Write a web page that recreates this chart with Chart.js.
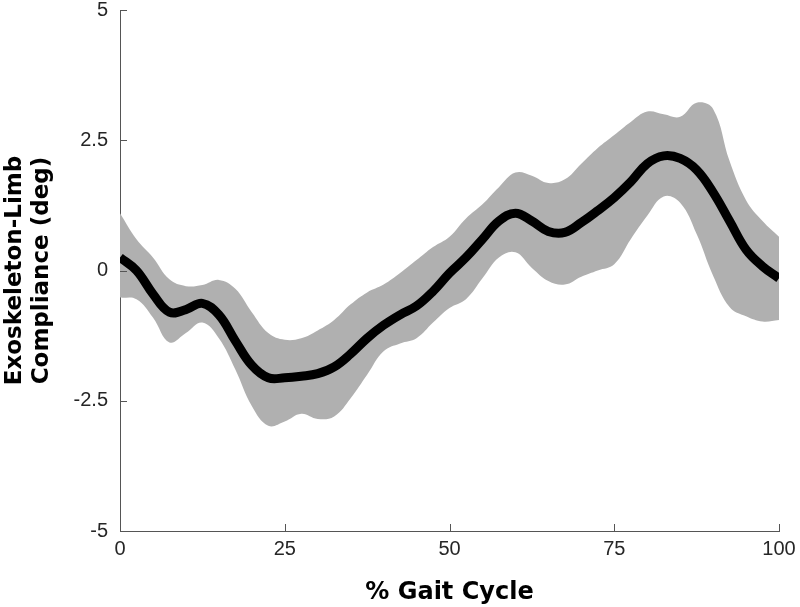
<!DOCTYPE html>
<html>
<head>
<meta charset="utf-8">
<script src="https://cdn.jsdelivr.net/npm/chart.js@4.4.1/dist/chart.umd.min.js"></script>
<style>
  html, body { margin: 0; padding: 0; background: #fff; }
  #wrap { width: 800px; height: 607px; }
</style>
</head>
<body>
<div id="wrap"><canvas id="gait"></canvas></div>
<script>
  // % gait cycle, sampled every 2.5 %
  const gaitPct = [0, 2.5, 5, 7.5, 10, 12.5, 15, 17.5, 20, 22.5, 25, 27.5, 30, 32.5, 35, 37.5, 40,
    42.5, 45, 47.5, 50, 52.5, 55, 57.5, 60, 62.5, 65, 67.5, 70, 72.5, 75, 77.5, 80, 82.5, 85,
    87.5, 90, 92.5, 95, 97.5, 100];
  // mean compliance (deg)
  const meanDeg = [0.25, 0.0, -0.45, -0.8, -0.75, -0.63, -0.85, -1.35, -1.82, -2.06, -2.06, -2.03,
    -1.98, -1.85, -1.6, -1.3, -1.05, -0.85, -0.68, -0.4, -0.05, 0.25, 0.6, 0.95, 1.1, 0.95, 0.75,
    0.73, 0.92, 1.15, 1.4, 1.7, 2.05, 2.2, 2.15, 1.93, 1.5, 0.95, 0.4, 0.08, -0.15];
  // upper / lower edge of the shaded band
  const upperDeg = [1.1, 0.6, 0.25, -0.17, -0.3, -0.28, -0.18, -0.35, -0.8, -1.2, -1.33, -1.3,
    -1.15, -0.95, -0.65, -0.42, -0.27, -0.05, 0.2, 0.45, 0.65, 1.0, 1.27, 1.6, 1.88, 1.82, 1.68,
    1.75, 2.05, 2.35, 2.6, 2.85, 3.05, 3.0, 2.95, 3.22, 3.1, 2.1, 1.35, 0.95, 0.65];
  const lowerDeg = [-0.52, -0.55, -0.9, -1.38, -1.2, -1.0, -1.3, -1.9, -2.6, -2.98, -2.9, -2.75,
    -2.85, -2.8, -2.45, -2.0, -1.55, -1.4, -1.3, -1.0, -0.72, -0.55, -0.15, 0.25, 0.35, 0.05, -0.2,
    -0.27, -0.12, 0.0, 0.12, 0.6, 1.05, 1.42, 1.3, 0.7, -0.1, -0.7, -0.88, -0.98, -0.95];

  const xTicks = [0, 25, 50, 75, 100];
  const yTicks = [-5, -2.5, 0, 2.5, 5];

  const pts = ys => gaitPct.map((x, i) => ({ x: x, y: ys[i] }));

  const axisColor = '#555555';
  const labelColor = '#262626';

  // ticks pointing into the plot, like the original
  const inwardTicks = {
    id: 'inwardTicks',
    afterDraw(chart) {
      const { ctx, chartArea, scales } = chart;
      ctx.save();
      ctx.strokeStyle = axisColor;
      ctx.lineWidth = 1;
      ctx.beginPath();
      xTicks.forEach(v => {
        const px = Math.round(scales.x.getPixelForValue(v)) + 0.5;
        ctx.moveTo(px, chartArea.bottom);
        ctx.lineTo(px, chartArea.bottom - 7);
      });
      yTicks.forEach(v => {
        const py = Math.round(scales.y.getPixelForValue(v)) + 0.5;
        ctx.moveTo(chartArea.left, py);
        ctx.lineTo(chartArea.left + 7, py);
      });
      ctx.stroke();
      ctx.restore();
    }
  };

  new Chart(document.getElementById('gait'), {
    type: 'line',
    data: {
      datasets: [
        {
          data: pts(meanDeg),
          borderColor: '#000000',
          borderWidth: 9,
          pointRadius: 0,
          tension: 0.4,
          fill: false,
          order: 0
        },
        {
          data: pts(upperDeg),
          borderWidth: 0,
          borderColor: 'rgba(0,0,0,0)',
          backgroundColor: '#b0b0b0',
          pointRadius: 0,
          tension: 0.4,
          fill: '+1',
          order: 1
        },
        {
          data: pts(lowerDeg),
          borderWidth: 0,
          borderColor: 'rgba(0,0,0,0)',
          pointRadius: 0,
          tension: 0.4,
          fill: false,
          order: 2
        }
      ]
    },
    options: {
      responsive: true,
      maintainAspectRatio: false,
      animation: false,
      layout: { padding: { top: 10, right: 21, left: 0, bottom: 0 } },
      plugins: {
        legend: { display: false },
        tooltip: { enabled: false }
      },
      scales: {
        x: {
          type: 'linear',
          min: 0,
          max: 100,
          afterBuildTicks: s => { s.ticks = xTicks.map(v => ({ value: v })); },
          afterFit: s => { s.height = 76; s.paddingLeft = 0; s.paddingRight = 0; },
          grid: { drawOnChartArea: false, drawTicks: false },
          border: { color: axisColor, width: 1 },
          ticks: {
            padding: 6,
            color: labelColor,
            font: { family: 'Liberation Sans', size: 20 },
            callback: v => String(v)
          },
          title: {
            display: true,
            text: '% Gait Cycle',
            color: '#000',
            padding: 0,
            font: { family: 'DejaVu Sans', size: 24, weight: 'bold', lineHeight: 1.2 }
          }
        },
        y: {
          min: -5,
          max: 5,
          afterBuildTicks: s => { s.ticks = yTicks.map(v => ({ value: v })); },
          afterFit: s => { s.width = 120; s.paddingTop = 0; s.paddingBottom = 0; },
          grid: { drawOnChartArea: false, drawTicks: false },
          border: { color: axisColor, width: 1 },
          ticks: {
            padding: 12,
            color: labelColor,
            font: { family: 'Liberation Sans', size: 20 },
            callback: v => String(v)
          },
          title: {
            display: true,
            text: ['Exoskeleton-Limb', 'Compliance (deg)'],
            color: '#000',
            padding: { top: 2 },
            font: { family: 'DejaVu Sans', size: 23, weight: 'bold', lineHeight: 1.17 }
          }
        }
      }
    },
    plugins: [inwardTicks]
  });
</script>
</body>
</html>
